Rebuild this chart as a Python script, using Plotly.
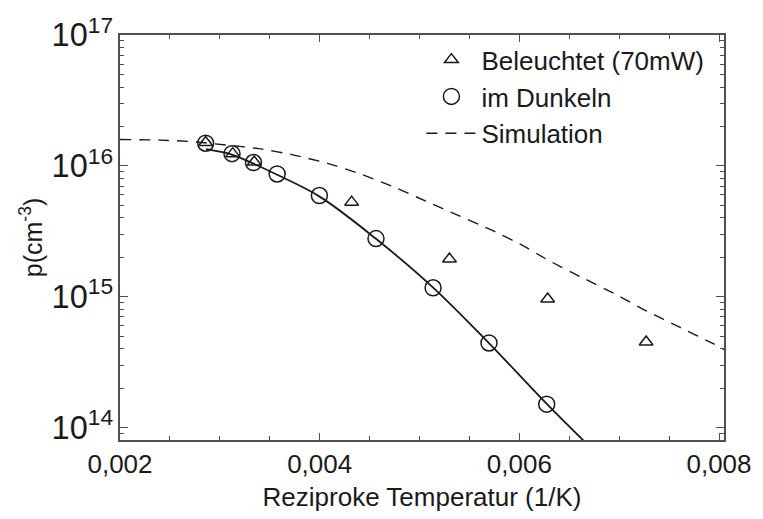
import plotly.graph_objects as go

# Data
x_dunkel = [0.002858, 0.003122, 0.003337, 0.003574, 0.003997, 0.004564, 0.005136, 0.005696, 0.006274]
p_dunkel = [1.49e16, 1.24e16, 1.06e16, 8.67e15, 5.93e15, 2.78e15, 1.17e15, 4.43e14, 1.51e14]

x_licht = [0.002858, 0.003129, 0.003344, 0.004320, 0.005300, 0.006284, 0.007270]
p_licht = [1.51e16, 1.24e16, 1.07e16, 5.28e15, 1.94e15, 9.6e14, 4.51e14]

x_fit = [0.002861, 0.003119, 0.003337, 0.003574, 0.004000, 0.004564, 0.005139, 0.005693, 0.006277, 0.006700]
p_fit = [1.34e16, 1.22e16, 1.04e16, 8.55e15, 5.82e15, 2.77e15, 1.17e15, 4.44e14, 1.51e14, 7.2e13]

x_sim = [0.002, 0.002396, 0.002723, 0.003059, 0.003386, 0.003713, 0.004079, 0.004409, 0.004739,
         0.005069, 0.005399, 0.005730, 0.006027, 0.006290, 0.006621, 0.006950, 0.007280,
         0.007611, 0.007941, 0.008063]
p_sim = [1.59e16, 1.574e16, 1.531e16, 1.445e16, 1.355e16, 1.223e16, 1.045e16, 8.67e15, 6.91e15,
         5.35e15, 4.14e15, 3.21e15, 2.48e15, 1.90e15, 1.41e15, 1.058e15, 7.74e14,
         5.82e14, 4.38e14, 3.91e14]

x_ticks = [0.002, 0.004, 0.006, 0.008]

FONT = "Liberation Sans, Arial, sans-serif"
INK = "#1a1a1a"
AX = "#505050"

fig = go.Figure()

fig.add_trace(go.Scatter(
    x=x_licht, y=p_licht, mode="markers", name="Beleuchtet (70mW)",
    marker=dict(symbol="triangle-up-open", size=12, color=INK, line=dict(width=1.5, color=INK)),
))
fig.add_trace(go.Scatter(
    x=x_dunkel, y=p_dunkel, mode="markers", name="im Dunkeln",
    marker=dict(symbol="circle-open", size=16, color=INK, line=dict(width=1.5, color=INK)),
))
fig.add_trace(go.Scatter(
    x=x_sim, y=p_sim, mode="lines", name="Simulation", line_shape="spline",
    line=dict(color=INK, width=1.4, dash="11px,8px", smoothing=0.6),
))
fig.add_trace(go.Scatter(
    x=x_fit, y=p_fit, mode="lines", showlegend=False, line_shape="spline",
    line=dict(color=INK, width=1.8),
))

fig.update_layout(
    width=763, height=519,
    margin=dict(l=120, r=31, t=28, b=73),
    paper_bgcolor="white", plot_bgcolor="white",
    separators=",.",
    font=dict(family=FONT, size=26, color=INK),
    showlegend=True,
    legend=dict(x=0.499, y=0.997, xanchor="left", yanchor="top",
                bgcolor="rgba(0,0,0,0)", borderwidth=0,
                font=dict(family=FONT, size=26, color=INK),
                tracegroupgap=0, itemsizing="trace", itemwidth=50),
)

fig.update_xaxes(
    range=[0.002, 0.00805], tickvals=x_ticks, tickformat=".3f",
    showline=True, linecolor=AX, linewidth=1.5, mirror="allticks",
    ticks="inside", ticklen=7, tickwidth=1.2, tickcolor=AX,
    minor=dict(ticks="inside", ticklen=4, tickwidth=1.2, tickcolor=AX, dtick=0.0005, tick0=0.002, showgrid=False),
    showgrid=False, zeroline=False,
    tickfont=dict(family=FONT, size=26, color=INK),
    title=dict(text="Reziproke Temperatur (1/K)", font=dict(family=FONT, size=26, color=INK), standoff=10),
)
fig.update_yaxes(
    type="log", range=[13.905, 17], dtick=1, exponentformat="power",
    showline=True, linecolor=AX, linewidth=1.5, mirror="allticks",
    ticks="inside", ticklen=8, tickwidth=1.2, tickcolor=AX,
    minor=dict(ticks="inside", ticklen=4, tickwidth=1.2, tickcolor=AX, showgrid=False),
    showgrid=False, zeroline=False,
    tickfont=dict(family=FONT, size=26, color=INK),
    title=dict(text="p(cm<sup>-3</sup>)", font=dict(family=FONT, size=25, color=INK), standoff=2),
)

fig.write_html("out.html")
